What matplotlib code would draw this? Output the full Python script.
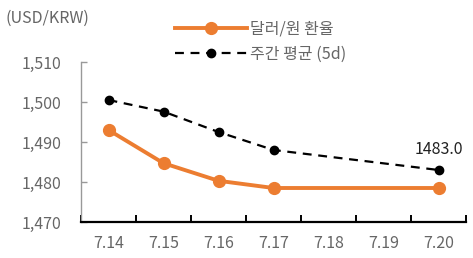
import numpy as np
import matplotlib
matplotlib.use("Agg")
import matplotlib.pyplot as plt
from matplotlib.ticker import FuncFormatter

plt.rcParams['font.family'] = ['Noto Sans CJK KR', 'DejaVu Sans']

dates = ["7.14", "7.15", "7.16", "7.17", "7.18", "7.19", "7.20"]
usdkrw = [1493.0, 1484.7, 1480.3, 1478.5, np.nan, np.nan, 1478.5]
avg5d = [1500.5, 1497.6, 1492.5, 1488.0, np.nan, np.nan, 1483.0]
series_names = ["달러/원 환율", "주간 평균 (5d)"]
unit_label = "(USD/KRW)"
yticks = [1470, 1480, 1490, 1500, 1510]

fs = 11.5
fig = plt.figure(figsize=(4.73, 2.58), dpi=100)
ax = fig.add_axes([81/473, 1-222/258, (466-81)/473, (222-62)/258])

x = np.arange(len(dates))
u = np.array(usdkrw); a = np.array(avg5d)
mu = ~np.isnan(u); ma = ~np.isnan(a)
orange = "#EC7D31"
ax.plot(x[mu], u[mu], color=orange, lw=2.8, marker="o", ms=8.5, label=series_names[0], zorder=3)
ax.plot(x[ma], a[ma], color="black", lw=1.6, ls=(0, (4, 3)), marker="o", ms=6, label=series_names[1], zorder=3)

ax.annotate(f"{a[-1]:.1f}", (x[-1], a[-1]), xytext=(0, 9), textcoords="offset points",
            ha="center", va="bottom", fontsize=fs, color="#222222")

ax.set_xlim(-0.5, len(dates)-0.5)
ax.set_ylim(1470, 1510)
ax.set_xticks(x)
ax.set_xticklabels(dates)
ax.set_xticks(np.arange(-0.5, len(dates), 1.0), minor=True)
ax.tick_params(axis="x", which="major", length=0, pad=9.5, labelsize=fs, labelcolor="#666666")
ax.tick_params(axis="x", which="minor", direction="in", length=5, width=1.4, color="black")
ax.set_yticks(yticks)
ax.yaxis.set_major_formatter(FuncFormatter(lambda v, p: f"{int(v):,}"))
ax.tick_params(axis="y", direction="in", length=4, width=1, color="#999999", labelsize=fs,
               labelcolor="#666666", pad=14)
for s in ["top", "right"]:
    ax.spines[s].set_visible(False)
ax.spines["left"].set_color("#999999")
ax.spines["left"].set_linewidth(1)
ax.spines["bottom"].set_color("black")
ax.spines["bottom"].set_linewidth(1.6)
ax.set_facecolor("white")

fig.text(5/473, 1-18/258, unit_label, fontsize=fs, color="#666666", va="center", ha="left")

leg = fig.legend(loc="upper left", bbox_to_anchor=(161/473, 1-6/258), frameon=False,
                 handlelength=4.5, fontsize=fs, labelspacing=0.5, handletextpad=0.2,
                 labelcolor="#666666")

fig.savefig("out.png", dpi=100, facecolor="white")
